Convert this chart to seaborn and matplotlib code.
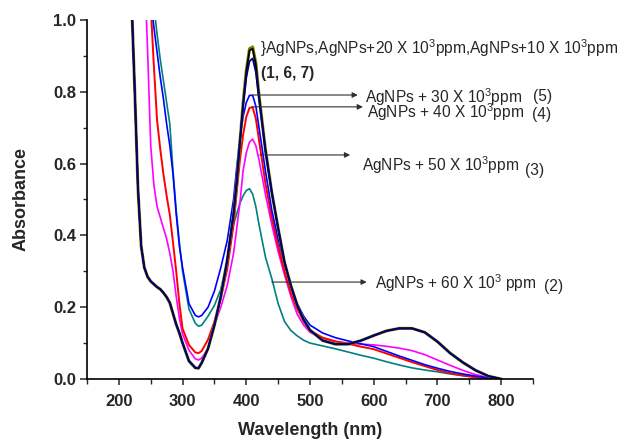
import matplotlib
matplotlib.use("Agg")
import matplotlib.pyplot as plt
from matplotlib.ticker import MultipleLocator
import pandas as pd
import seaborn as sns

# UV-Vis absorption spectra of AgNPs with increasing additive concentration
wavelength = [220, 225, 230, 235, 240, 245, 250, 255, 260, 265, 270, 275, 280, 285, 290, 295, 300,
              310, 320, 325, 330,
              340, 350, 360, 370, 380,
              385, 390, 395, 400, 405, 410, 415, 420,
              430, 440, 450, 460, 470, 480, 490, 500,
              520, 540, 560, 580, 600, 620, 640, 660, 680, 700, 720, 740, 760, 780, 800]

agnps = [1.05, 0.80, 0.53, 0.37, 0.31, 0.285, 0.272, 0.264, 0.256, 0.25, 0.24, 0.228, 0.212, 0.182, 0.152, 0.128, 0.10,
         0.05, 0.031, 0.030, 0.045,
         0.085, 0.15, 0.23, 0.33, 0.46,
         0.55, 0.66, 0.77, 0.86, 0.92, 0.925, 0.88, 0.79,
         0.64, 0.52, 0.42, 0.325, 0.26, 0.205, 0.165, 0.136,
         0.107, 0.097, 0.097, 0.107, 0.121, 0.134, 0.141, 0.141, 0.13, 0.104, 0.072, 0.046, 0.024, 0.008, 0.0]

ppm20 = [1.05, 0.80, 0.53, 0.37, 0.31, 0.285, 0.272, 0.264, 0.256, 0.25, 0.24, 0.228, 0.212, 0.182, 0.152, 0.128, 0.10,
         0.05, 0.031, 0.030, 0.045,
         0.085, 0.15, 0.23, 0.33, 0.46,
         0.55, 0.66, 0.765, 0.855, 0.915, 0.92, 0.875, 0.788,
         0.64, 0.52, 0.42, 0.325, 0.26, 0.205, 0.165, 0.136,
         0.107, 0.097, 0.097, 0.107, 0.121, 0.134, 0.141, 0.141, 0.13, 0.104, 0.072, 0.046, 0.024, 0.008, 0.0]

ppm10 = [1.05, 0.80, 0.53, 0.37, 0.31, 0.285, 0.272, 0.264, 0.256, 0.25, 0.24, 0.228, 0.212, 0.182, 0.152, 0.128, 0.10,
         0.05, 0.031, 0.030, 0.045,
         0.085, 0.15, 0.23, 0.33, 0.46,
         0.55, 0.66, 0.76, 0.84, 0.885, 0.893, 0.855, 0.78,
         0.635, 0.52, 0.42, 0.325, 0.26, 0.205, 0.165, 0.136,
         0.107, 0.097, 0.097, 0.107, 0.121, 0.134, 0.141, 0.141, 0.13, 0.104, 0.072, 0.046, 0.024, 0.008, 0.0]

ppm30 = [1.6, 1.5, 1.4, 1.3, 1.22, 1.14, 1.06, 0.98, 0.91, 0.84, 0.78, 0.71, 0.65, 0.57, 0.46, 0.37, 0.31,
         0.21, 0.177, 0.173, 0.177,
         0.20, 0.245, 0.31, 0.385, 0.50,
         0.59, 0.67, 0.73, 0.77, 0.79, 0.79, 0.76, 0.70,
         0.58, 0.47, 0.39, 0.32, 0.26, 0.21, 0.175, 0.15,
         0.128, 0.115, 0.106, 0.098, 0.09, 0.077, 0.064, 0.052, 0.04, 0.03, 0.021, 0.014, 0.008, 0.003, 0.0]

ppm40 = [1.7, 1.6, 1.5, 1.4, 1.28, 1.15, 1.04, 0.87, 0.72, 0.64, 0.57, 0.51, 0.457, 0.38, 0.30, 0.21, 0.14,
         0.095, 0.074, 0.072, 0.078,
         0.11, 0.16, 0.225, 0.305, 0.43,
         0.52, 0.61, 0.68, 0.73, 0.755, 0.757, 0.725, 0.665,
         0.545, 0.45, 0.37, 0.30, 0.24, 0.195, 0.16, 0.135,
         0.115, 0.105, 0.098, 0.09, 0.083, 0.071, 0.059, 0.047, 0.036, 0.025, 0.016, 0.01, 0.005, 0.002, 0.0]

ppm50 = [1.8, 1.65, 1.5, 1.35, 1.15, 0.92, 0.65, 0.54, 0.48, 0.45, 0.42, 0.39, 0.35, 0.30, 0.23, 0.17, 0.125,
         0.08, 0.056, 0.053, 0.058,
         0.085, 0.15, 0.20, 0.26, 0.35,
         0.42, 0.49, 0.58, 0.63, 0.66, 0.668, 0.65, 0.61,
         0.515, 0.43, 0.355, 0.29, 0.23, 0.18, 0.15, 0.13,
         0.113, 0.104, 0.10, 0.097, 0.095, 0.091, 0.086, 0.079, 0.068, 0.053, 0.038, 0.024, 0.012, 0.004, 0.0]

ppm60 = [1.8, 1.6, 1.45, 1.35, 1.25, 1.17, 1.10, 1.04, 0.96, 0.89, 0.83, 0.77, 0.71, 0.58, 0.47, 0.38, 0.30,
         0.195, 0.155, 0.147, 0.15,
         0.175, 0.205, 0.25, 0.33, 0.43,
         0.46, 0.49, 0.51, 0.525, 0.53, 0.515, 0.48, 0.43,
         0.34, 0.28, 0.21, 0.16, 0.135, 0.12, 0.108, 0.10,
         0.092, 0.084, 0.075, 0.066, 0.058, 0.048, 0.039, 0.031, 0.025, 0.02, 0.014, 0.009, 0.005, 0.002, 0.0]

samples = ["60", "50", "40", "30", "AgNPs", "20", "10"]
spectra = [ppm60, ppm50, ppm40, ppm30, agnps, ppm20, ppm10]
colors = {"60": "#008080", "50": "#FF00FF", "40": "#FF0000", "30": "#0000FF",
          "AgNPs": "#808000", "20": "#000000", "10": "#000080"}
widths = {"60": 1.2, "50": 1.2, "40": 1.4, "30": 1.2, "AgNPs": 2.2, "20": 1.3, "10": 1.3}

xticks = [200, 300, 400, 500, 600, 700, 800]
yticks = [0.0, 0.2, 0.4, 0.6, 0.8, 1.0]

df = pd.DataFrame({
    "wavelength": wavelength * len(samples),
    "absorbance": [v for s in spectra for v in s],
    "sample": [name for name in samples for _ in wavelength],
})

sns.set_style("ticks")
plt.rcParams["font.family"] = ["Liberation Sans", "DejaVu Sans"]
plt.rcParams["mathtext.fontset"] = "custom"
plt.rcParams["mathtext.rm"] = "Liberation Sans"
plt.rcParams["mathtext.it"] = "Liberation Sans:italic"
plt.rcParams["mathtext.bf"] = "Liberation Sans:bold"
plt.rcParams["mathtext.default"] = "rm"

fig = plt.figure(figsize=(6.21, 4.43), dpi=100)
ax = fig.add_axes([0.1401, 0.1445, 0.7182, 0.8104])

for name in samples:
    sns.lineplot(data=df[df["sample"] == name], x="wavelength", y="absorbance",
                 color=colors[name], linewidth=widths[name], sort=False,
                 estimator=None, legend=False, ax=ax)

ax.set_xlim(150, 850)
ax.set_ylim(0, 1.0)
ax.set_xticks(xticks)
ax.set_yticks(yticks)
ax.set_yticklabels([f"{t:.1f}" for t in yticks])
ax.xaxis.set_minor_locator(MultipleLocator(50))
ax.yaxis.set_minor_locator(MultipleLocator(0.1))
sns.despine(ax=ax)
for side in ("left", "bottom"):
    ax.spines[side].set_linewidth(1.2)
    ax.spines[side].set_color("black")

ax.tick_params(axis="x", which="major", length=4.5, width=1.1, pad=6.5, labelsize=12)
ax.tick_params(axis="x", which="minor", length=3.5, width=1.0)
ax.tick_params(axis="y", which="major", length=5, width=1.1, pad=3, labelsize=12)
ax.tick_params(axis="y", which="minor", length=3, width=1.0)
for lbl in ax.get_xticklabels() + ax.get_yticklabels():
    lbl.set_fontweight("bold")

ax.set_xlabel("Wavelength (nm)", fontsize=13, fontweight="bold")
ax.set_ylabel("Absorbance", fontsize=13, fontweight="bold")
ax.xaxis.set_label_coords(0.5, -0.12)
ax.yaxis.set_label_coords(-0.128, 0.5)

arrow = dict(arrowstyle="-|>", color="#303030", lw=0.8, mutation_scale=8, shrinkA=0, shrinkB=0)
ax.annotate("", xy=(575, 0.791), xytext=(409, 0.791), arrowprops=arrow)
ax.annotate("", xy=(583, 0.758), xytext=(409, 0.758), arrowprops=arrow)
ax.annotate("", xy=(563, 0.624), xytext=(421, 0.624), arrowprops=arrow)
ax.annotate("", xy=(589, 0.270), xytext=(440, 0.270), arrowprops=arrow)

fs = 11.2
ax.text(421, 0.922, "}AgNPs,AgNPs+20 X 10$^3$ppm,AgNPs+10 X 10$^3$ppm", fontsize=fs, va="center", ha="left")
ax.text(423, 0.852, "(1, 6, 7)", fontsize=fs, fontweight="bold", va="center", ha="left")
ax.text(586, 0.786, "AgNPs + 30 X 10$^3$ppm", fontsize=fs, va="center", ha="left")
ax.text(850, 0.786, "(5)", fontsize=fs, va="center", ha="left")
ax.text(589, 0.744, "AgNPs + 40 X 10$^3$ppm", fontsize=fs, va="center", ha="left")
ax.text(848, 0.736, "(4)", fontsize=fs, va="center", ha="left")
ax.text(582, 0.596, "AgNPs + 50 X 10$^3$ppm", fontsize=fs, va="center", ha="left")
ax.text(837, 0.582, "(3)", fontsize=fs, va="center", ha="left")
ax.text(602, 0.267, "AgNPs + 60 X 10$^3$ ppm", fontsize=fs, va="center", ha="left")
ax.text(867, 0.257, "(2)", fontsize=fs, va="center", ha="left")

fig.savefig("out.png", dpi=100)
